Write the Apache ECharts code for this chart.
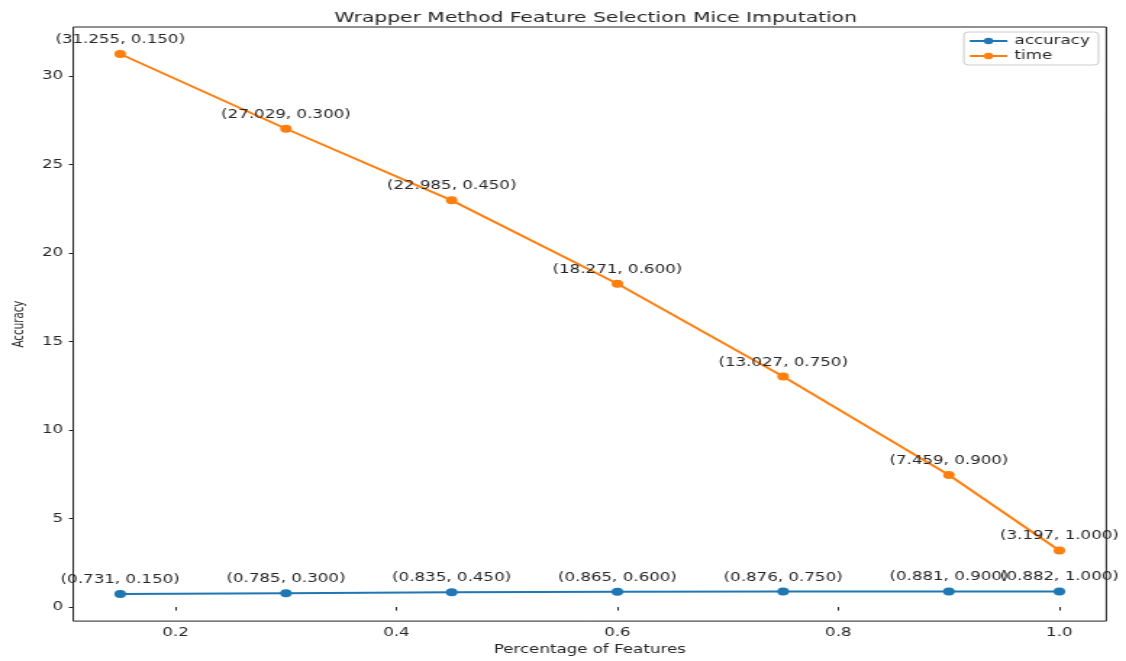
<!DOCTYPE html>
<html>
<head>
<meta charset="utf-8">
<script src="https://cdn.jsdelivr.net/npm/echarts@6/dist/echarts.min.js"></script>
<style>
html,body{margin:0;padding:0;background:#fff;overflow:hidden;}
#wrap{width:1126px;height:661px;overflow:hidden;}
#chart{width:777px;height:661px;transform:scaleX(1.4492);transform-origin:0 0;}
</style>
</head>
<body>
<div id="wrap"><div id="chart"></div></div>
<script>
const featurePct = [0.15, 0.30, 0.45, 0.60, 0.75, 0.90, 1.00];
const accuracy = [0.731, 0.785, 0.835, 0.865, 0.876, 0.881, 0.882];
const timeVals = [31.255, 27.029, 22.985, 18.271, 13.027, 7.459, 3.197];
const xTicks = [0.2, 0.4, 0.6, 0.8, 1.0];
const yTicks = [0, 5, 10, 15, 20, 25, 30];

const FONT = 'DejaVu Sans';
const TXT = '#262626';

function pairs(ys) { return featurePct.map((x, i) => [x, ys[i]]); }
const fmt = p => '(' + p.value[1].toFixed(3) + ', ' + p.value[0].toFixed(3) + ')';

const chart = echarts.init(document.getElementById('chart'), null, {renderer: 'canvas'});
const labelCfg = {show: true, position: 'top', distance: 4, formatter: fmt,
  fontFamily: FONT, fontSize: 11.5, color: TXT};

chart.setOption({
  animation: false,
  backgroundColor: '#fff',
  title: {text: 'Wrapper Method Feature Selection Mice Imputation', left: 406, textAlign: 'center', top: 6,
    textStyle: {fontFamily: FONT, fontSize: 14, fontWeight: 'normal', color: TXT}},
  legend: {
    right: 19, top: 32, orient: 'vertical', itemWidth: 26, itemHeight: 8, itemGap: 3,
    padding: [3, 6, 3, 3], borderColor: '#cccccc', borderWidth: 1, borderRadius: 3,
    backgroundColor: 'rgba(255,255,255,0.8)',
    textStyle: {fontFamily: FONT, fontSize: 11.5, color: TXT},
    data: ['accuracy', 'time']
  },
  grid: {left: 49, right: 13.6, top: 27, bottom: 37, show: true, borderColor: '#222', borderWidth: 1, containLabel: false},
  xAxis: {
    type: 'value', min: 0.1075, max: 1.0425,
    name: 'Percentage of Features', nameLocation: 'middle', nameGap: 18,
    nameTextStyle: {fontFamily: FONT, fontSize: 11.5, color: TXT},
    axisLine: {show: false}, splitLine: {show: false},
    axisTick: {show: true, length: 3.5, inside: false, customValues: xTicks, lineStyle: {color: '#222'}},
    axisLabel: {customValues: xTicks, margin: 6, fontFamily: FONT, fontSize: 11.5, color: TXT,
      formatter: v => v.toFixed(1)}
  },
  yAxis: {
    type: 'value', min: -0.795, max: 32.781,
    name: 'Accuracy', nameLocation: 'middle', nameGap: 30, nameRotate: 90,
    nameTextStyle: {fontFamily: FONT, fontSize: 10.3, color: TXT},
    axisLine: {show: false}, splitLine: {show: false},
    axisTick: {show: true, length: 3, inside: false, customValues: yTicks, lineStyle: {color: '#222'}},
    axisLabel: {customValues: yTicks, margin: 7, fontFamily: FONT, fontSize: 11.5, color: TXT,
      formatter: v => String(v)}
  },
  series: [
    {name: 'accuracy', type: 'line', data: pairs(accuracy), symbol: 'circle', symbolSize: 8,
      itemStyle: {color: '#1f77b4'}, lineStyle: {width: 2, color: '#1f77b4'}, label: labelCfg},
    {name: 'time', type: 'line', data: pairs(timeVals), symbol: 'circle', symbolSize: 8,
      itemStyle: {color: '#ff7f0e'}, lineStyle: {width: 2, color: '#ff7f0e'}, label: labelCfg}
  ]
});
</script>
</body>
</html>
